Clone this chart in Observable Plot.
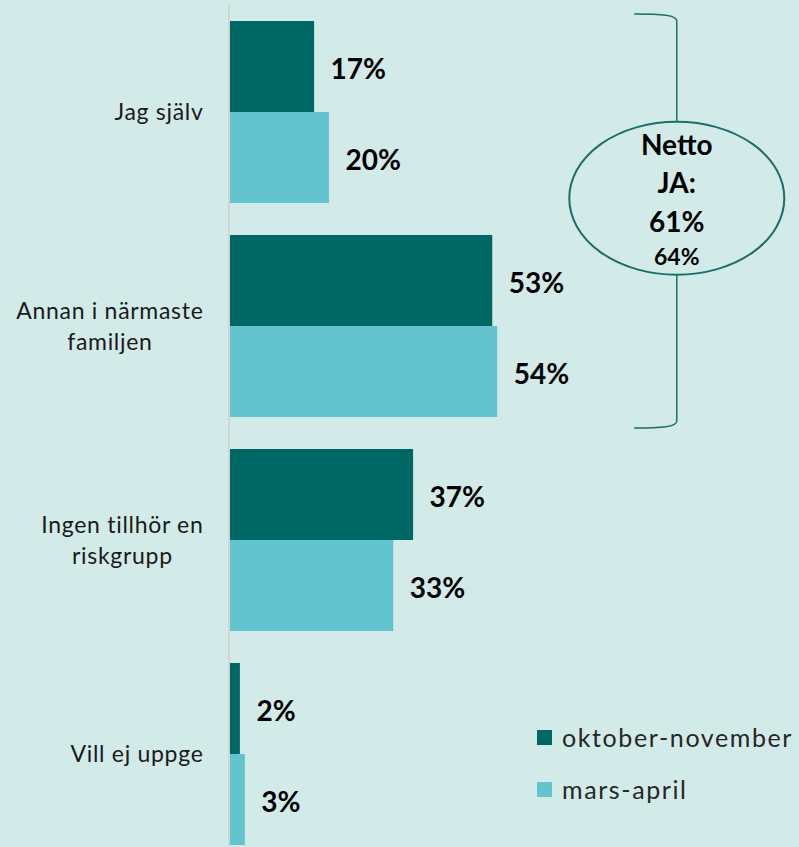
<!DOCTYPE html>
<html><head><meta charset="utf-8">
<script src="https://cdn.jsdelivr.net/npm/d3@7"></script>
<script src="https://cdn.jsdelivr.net/npm/@observablehq/plot@0.6"></script>
<style>
html,body{margin:0;padding:0;background:#d3ebe8;}
#wrap{position:relative;width:799px;height:847px;font-family:Lato,"Open Sans",sans-serif;overflow:hidden;}
#chart svg{display:block;}
#legend{position:absolute;left:537px;top:722px;font-size:25px;letter-spacing:1.6px;color:#262626;}
.item{display:flex;align-items:center;height:30px;margin-bottom:22px;white-space:nowrap;}
.sw{width:15px;height:15px;margin-right:10px;flex:none;}
</style></head><body>
<div id="wrap"><div id="chart"></div><div id="legend"></div></div>
<script>
const categories = ["Jag själv", "Annan i närmaste familjen", "Ingen tillhör en riskgrupp", "Vill ej uppge"];
const categoryLabels = ["Jag själv", "Annan i närmaste\nfamiljen", "Ingen tillhör en\nriskgrupp", "Vill ej uppge"];
const series = ["oktober-november", "mars-april"];
const octNov = [17, 53, 37, 2];
const marsApril = [20, 54, 33, 3];
const nettoLabel = ["Netto", "JA:"];
const nettoValues = [61, 64];
const colors = ["#006864", "#63c3cf"];
const bg = "#d3ebe8";

const rows = [];
categories.forEach((c, i) => {
  rows.push({category: c, series: series[0], value: octNov[i]});
  rows.push({category: c, series: series[1], value: marsApril[i]});
});
const labelRows = categories.map((c, i) => ({category: c, label: categoryLabels[i]}));

const W = 799, H = 847;
const plot = Plot.plot({
  width: W, height: H,
  marginLeft: 230, marginRight: 0, marginTop: 21, marginBottom: 2,
  style: {background: "transparent", fontFamily: "Lato, 'Open Sans', sans-serif"},
  x: {domain: [0, 115], axis: null},
  y: {domain: series, axis: null, padding: 0},
  fy: {domain: categories, axis: null, paddingInner: 0.15, paddingOuter: 0},
  color: {domain: series, range: colors},
  marks: [
    Plot.barX(rows, {x: "value", y: "series", fy: "category", fill: "series"}),
    Plot.text(rows, {x: "value", y: "series", fy: "category", text: d => d.value + "%",
      dx: 16, dy: 3, textAnchor: "start", fontWeight: "bold", fontSize: 28, fill: "#000"}),
    Plot.text(labelRows, {fy: "category", text: "label", frameAnchor: "left", dx: -27, dy: -2,
      textAnchor: "end", fontSize: 23, fill: "#1a1a1a", lineHeight: 1.35,
      className: "catlabel"})
  ]
});
document.getElementById("chart").appendChild(plot);

// slight letter spacing on category labels, then center multi-line labels in a right-aligned block
d3.select(plot).selectAll(".catlabel text").each(function() {
  this.setAttribute("letter-spacing", "0.7");
  const tspans = this.querySelectorAll("tspan");
  if (tspans.length > 1) {
    const w = this.getBBox().width;
    this.setAttribute("text-anchor", "middle");
    tspans.forEach(t => t.setAttribute("x", -w / 2));
  }
});

const svg = d3.select(plot);
const xs = plot.scale("x"), fys = plot.scale("fy");
const x0 = xs.apply(0);
const g0 = fys.apply(categories[0]);
const g1 = fys.apply(categories[1]);
const bw = fys.bandwidth;

// baseline axis
svg.insert("line", ":first-child")
  .attr("x1", x0 - 1).attr("x2", x0 - 1)
  .attr("y1", g0 - 16).attr("y2", H)
  .attr("stroke", "#cfd6d5").attr("stroke-width", 2);

// bracket + ellipse annotation
const bx = xs.apply(90.3), hx = xs.apply(81.7);
const yT = g0 - 7, yB = g1 + bw + 11;
const cy = yT + (yB - yT) * 0.445;
const ann = svg.append("g");
ann.append("path")
  .attr("d", `M${hx},${yT} C${bx - 15},${yT} ${bx},${yT + 1} ${bx},${yT + 7} L${bx},${yB - 7} C${bx},${yB - 1} ${bx - 15},${yB} ${hx},${yB}`)
  .attr("fill", "none").attr("stroke", "#1b6e69").attr("stroke-width", 1.5);
ann.append("ellipse")
  .attr("cx", bx).attr("cy", cy).attr("rx", 107.5).attr("ry", 76.5)
  .attr("fill", bg).attr("stroke", "#1b6e69").attr("stroke-width", 2);
const lines = [
  {t: nettoLabel[0], dy: -43.5, s: 28},
  {t: nettoLabel[1], dy: -5.5, s: 28},
  {t: nettoValues[0] + "%", dy: 33.5, s: 28},
  {t: nettoValues[1] + "%", dy: 66.5, s: 23}
];
lines.forEach(l => {
  ann.append("text").attr("x", bx).attr("y", cy + l.dy)
    .attr("text-anchor", "middle").attr("font-weight", "bold")
    .attr("font-size", l.s).attr("fill", "#000").text(l.t);
});

// legend
const leg = d3.select("#legend");
series.forEach((s, i) => {
  const it = leg.append("div").attr("class", "item");
  it.append("div").attr("class", "sw").style("background", colors[i]);
  it.append("span").text(s);
});
</script>
</body></html>
